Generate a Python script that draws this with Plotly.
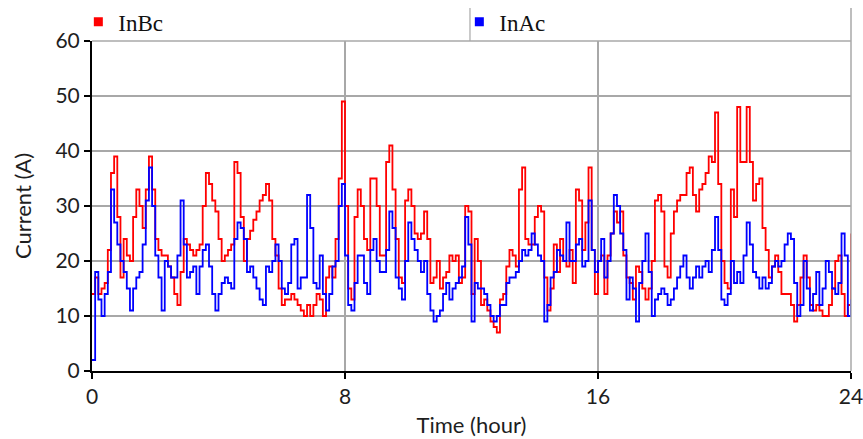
import plotly.graph_objects as go

# time axis (hours), sampled every 0.1 h
time_h = [round(i * 0.1, 1) for i in range(241)]

inbc = [
    14, 17, 14, 15, 16, 22, 36, 39, 28, 17,
    24, 21, 20, 28, 33, 30, 26, 33, 39, 33,
    24, 22, 21, 21, 19, 17, 14, 12, 18, 24,
    23, 22, 21, 22, 23, 30, 36, 34, 31, 29,
    24, 20, 21, 22, 23, 38, 36, 28, 20, 24,
    25.5, 27.5, 29, 31, 32, 34, 31, 24, 21, 15,
    12, 13, 13, 14, 13, 12, 11, 10, 12, 10,
    12, 14, 13, 10, 17, 19, 17, 24, 35, 49,
    30, 15, 13, 28, 33, 30, 24, 22, 35, 35,
    30, 21, 21, 38, 41, 33, 24, 17, 16, 31,
    33, 30, 25, 24, 25, 29, 24, 16, 17, 20,
    15, 17, 18, 21, 20, 21, 16, 17, 30, 29,
    14, 24, 20, 12, 13, 11, 9, 8, 7, 13,
    14, 19, 22, 21, 19, 33, 37, 24, 23, 23,
    28, 30, 29, 17, 11, 15, 23, 18, 24, 20,
    19, 22, 16, 33, 31, 22, 27, 37, 22, 14,
    20, 21, 14, 21, 25, 29, 27, 29, 21, 17,
    16, 13, 19, 18, 15, 13, 15, 20, 31, 32,
    29, 19, 17, 25, 29, 31, 32, 32, 36, 37,
    32, 29, 33, 34, 36, 39, 38, 47, 34, 20,
    16, 15, 33, 28, 48, 38, 38, 48, 38, 31,
    34, 35, 26, 22, 17, 19, 21, 18, 14, 14,
    14, 12, 9, 12, 17, 21, 17, 12, 11, 12,
    11, 10, 10, 12, 15, 20, 21, 14, 10, 12,
    25,
]

inac = [
    2, 18, 13, 10, 14, 18, 33, 27, 23, 20,
    18, 15, 11, 15, 17, 18, 23, 31, 37, 30,
    21, 17, 11, 20, 19, 17, 17, 21, 31, 23,
    17, 18, 19, 14, 19, 22, 23, 19, 14, 11,
    14, 16, 17, 16, 15, 24, 27, 26, 24, 18,
    19, 17, 15, 13, 12, 19, 18, 20, 23, 20,
    15, 14, 16, 23, 24, 15, 17, 17, 32, 26,
    16, 15, 21, 14, 11, 14, 19, 20, 30, 34,
    21, 12, 11, 16, 21, 21, 16, 14, 22, 24,
    20, 18, 18, 22, 29, 26, 17, 15, 13, 20,
    27, 24, 22, 20, 18, 20, 14, 11, 9, 10,
    11, 14, 16, 13, 15, 16, 17, 19, 28, 23,
    9, 16, 15, 15, 14, 12, 10, 9, 10, 12,
    12, 16, 17, 17, 18, 20, 22, 21, 22, 25,
    23, 21, 20, 9, 12, 17, 18, 22, 21, 20,
    27, 20, 20, 23, 24, 19, 20, 31, 22, 18,
    20, 24, 17, 20, 25, 32, 30, 25, 22, 13,
    17, 15, 9, 16, 20, 25, 18, 10, 13, 14,
    15, 14, 12, 13, 15, 17, 19, 21, 17, 15,
    17, 19, 17, 19, 20, 18, 22, 28, 22, 13,
    12, 14, 20, 16, 18, 16, 21, 27, 23, 18,
    17, 15, 17, 15, 16, 19, 20, 19, 20, 23,
    25, 24, 16, 10, 12, 20, 15, 11, 14, 18,
    12, 15, 20, 18, 15, 14, 16, 25, 21, 10,
    13,
]

series_names = ["InBc", "InAc"]
series_colors = ["#ff0000", "#0000ff"]
x_ticks = [0, 8, 16, 24]
y_ticks = [0, 10, 20, 30, 40, 50, 60]

fig = go.Figure()
for name, vals, col in [(series_names[0], inbc, series_colors[0]),
                        (series_names[1], inac, series_colors[1])]:
    fig.add_trace(go.Scatter(x=time_h, y=vals, mode="lines", line_shape="hv",
                             line=dict(color=col, width=1.8), showlegend=False))
# legend entries with square markers
for name, col in zip(series_names, series_colors):
    fig.add_trace(go.Scatter(x=[None], y=[None], mode="markers", name=name,
                             marker=dict(symbol="square", size=9, color=col)))

grid = "#a8a8a8"
tickfont = dict(family="Lato", size=21, color="#1e1e1e")
titlefont = dict(family="Lato", size=22, color="#1e1e1e")
fig.update_layout(
    width=863, height=439,
    margin=dict(l=92, r=12, t=41, b=68, autoexpand=False),
    paper_bgcolor="white", plot_bgcolor="white",
    showlegend=True,
    legend=dict(orientation="h", x=-0.018, xanchor="left", y=1.058, yanchor="middle",
                font=dict(family="Liberation Serif", size=23, color="#111"),
                entrywidth=336, entrywidthmode="pixels",
                bgcolor="rgba(0,0,0,0)", borderwidth=0,
                itemwidth=30, tracegroupgap=0),
    xaxis=dict(range=[0, 24], tickvals=x_ticks, showgrid=True, gridcolor=grid, gridwidth=1.5,
               showline=True, linecolor="black", linewidth=2, ticks="outside",
               ticklen=6, tickcolor="black", tickwidth=1.5, tickfont=tickfont,
               ticklabeloverflow="allow", zeroline=False, automargin=False,
               title=dict(text="Time (hour)", font=titlefont, standoff=10)),
    yaxis=dict(range=[0, 60], tickvals=y_ticks, showgrid=True, gridcolor=grid, gridwidth=1.5,
               showline=True, linecolor="black", linewidth=2, ticks="outside",
               ticklen=6, tickcolor="black", tickwidth=1.5, tickfont=tickfont,
               ticklabeloverflow="allow", zeroline=False, automargin=False,
               title=dict(text="Current (A)", font=titlefont, standoff=18)),
    shapes=[
        dict(type="line", xref="paper", yref="paper", x0=0, x1=1, y0=1, y1=1,
             line=dict(color=grid, width=1.5)),
        dict(type="line", xref="paper", yref="paper", x0=1, x1=1, y0=0, y1=1.1,
             line=dict(color=grid, width=1.5)),
        dict(type="line", xref="paper", yref="paper", x0=0.498, x1=0.498, y0=1.0, y1=1.1,
             line=dict(color=grid, width=1.2)),
    ],
)

fig.write_html("out.html", config={"displayModeBar": False},
               post_script="document.body.style.margin='0';document.body.style.padding='0';")
